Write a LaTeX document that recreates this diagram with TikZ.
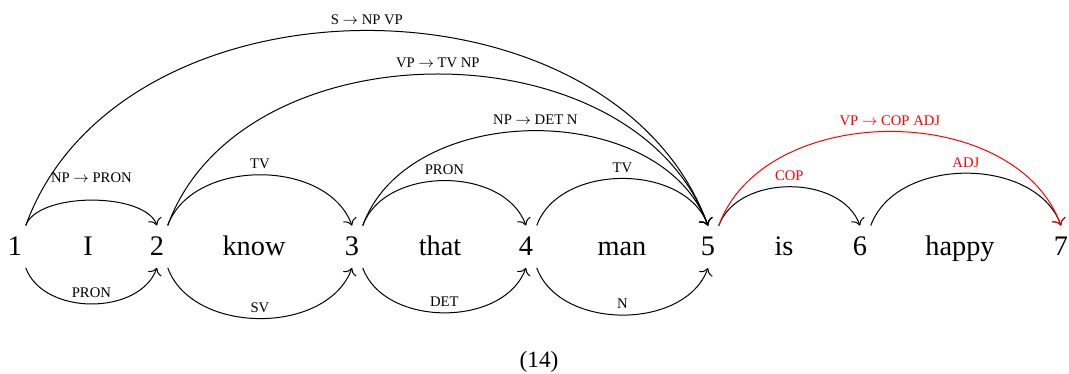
\documentclass[tikz,border=0pt]{standalone}
\usepackage{fontspec}
\setmainfont{Liberation Serif}
\usetikzlibrary{arrows.meta}

\begin{document}
\begin{tikzpicture}[
        x=0.6pt, y=0.6pt,
        vertex/.style={font=\fontsize{17}{20}\selectfont, inner sep=2pt, minimum height=25pt, anchor=base},
        word/.style={font=\fontsize{17}{20}\selectfont, anchor=base},
        chartedge/.style={-{To[scale=1.4]}, line width=0.6pt},
        lab/.style={font=\fontsize{8.8}{10}\selectfont}
    ]
        \useasboundingbox (0,0) rectangle (1069,374);

        % Chart vertices and the words between them
        \node[vertex] (n1) at (15, 118) {1};
        \node[word] (w1) at (88, 118) {I};
        \node[vertex] (n2) at (157, 118) {2};
        \node[word] (w2) at (254, 118) {know};
        \node[vertex] (n3) at (352, 118) {3};
        \node[word] (w3) at (440, 118) {that};
        \node[vertex] (n4) at (526, 118) {4};
        \node[word] (w4) at (622, 118) {man};
        \node[vertex] (n5) at (708, 118) {5};
        \node[word] (w5) at (784, 118) {is};
        \node[vertex] (n6) at (860, 118) {6};
        \node[word] (w6) at (960, 118) {happy};
        \node[vertex] (n7) at (1061, 118) {7};

        % Lexical edges above
        \draw[chartedge] (n1.north east) to[out=70, in=110, looseness=0.7]
            node[lab, above=7pt] {NP $\rightarrow$ PRON} (n2.north);
        \draw[chartedge] (n2.north east) to[out=70, in=110]
            node[lab, above] {TV} (n3.north);
        \draw[chartedge] (n3.north east) to[out=70, in=110]
            node[lab, above] {PRON} (n4.north);
        \draw[chartedge] (n4.north east) to[out=70, in=110]
            node[lab, above] {TV} (n5.north);

        % Lexical edges below
        \draw[chartedge] (n1.south east) to[out=-70, in=-110]
            node[lab, above] {PRON} (n2.south);
        \draw[chartedge] (n2.south east) to[out=-70, in=-110]
            node[lab, above] {SV} (n3.south);
        \draw[chartedge] (n3.south east) to[out=-70, in=-110]
            node[lab, above] {DET} (n4.south);
        \draw[chartedge] (n4.south east) to[out=-70, in=-110]
            node[lab, above] {N} (n5.south);

        % Phrasal edges
        \draw[chartedge] (n3.north east) to[out=70, in=110]
            node[lab, above] {NP $\rightarrow$ DET N} (n5.north);
        \draw[chartedge] (n2.north east) to[out=70, in=110, looseness=1.02]
            node[lab, above] {VP $\rightarrow$ TV NP} (n5.north);
        \draw[chartedge] (n1.north east) to[out=70, in=110, looseness=1.04]
            node[lab, above] {S $\rightarrow$ NP VP} (n5.north);

        % Edges after vertex 5
        \draw[chartedge] (n5.north east) to[out=70, in=110]
            node[lab, above, text=red] {COP} (n6.north);
        \draw[chartedge] (n6.north east) to[out=70, in=110]
            node[lab, above, text=red] {ADJ} (n7.north);
        \draw[chartedge, red] (n5.north east) to[out=70, in=110]
            node[lab, above] {VP $\rightarrow$ COP ADJ} (n7.north);

        % Example number
        \node[font=\fontsize{14}{16}\selectfont] (num) at (539, 12) {(14)};
    \end{tikzpicture}
\end{document}
